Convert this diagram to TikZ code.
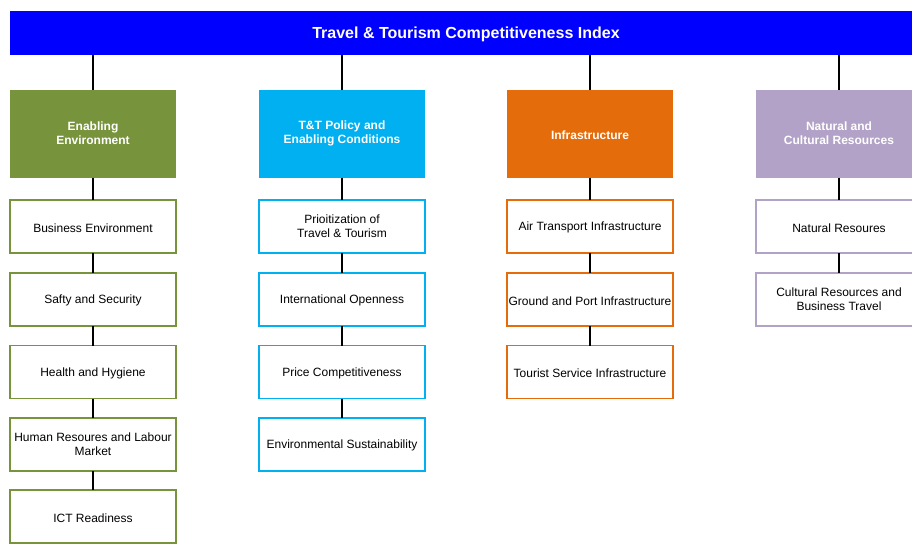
\documentclass[tikz,border=0pt]{standalone}
\usepackage{fontspec}
\setmainfont{Liberation Sans}
\definecolor{cgreen}{HTML}{77933C}
\definecolor{ccyan}{HTML}{00B0F0}
\definecolor{corange}{HTML}{E46C0A}
\definecolor{cpurple}{HTML}{B3A2C7}
\definecolor{cblue}{HTML}{0000FF}
\tikzset{
  lowertext/.style={execute at begin node={\rule{0pt}{#1}}},
  lowertext/.default=0.95em,
  titlebar/.style={fill=cblue, draw=none, text=white, font=\fontsize{12}{14}\selectfont\bfseries,
    minimum width=684pt, minimum height=33pt, inner sep=0pt, outer sep=0pt, lowertext},
  header/.style={fill=#1, draw=none, text=white, font=\fontsize{9}{10.5}\selectfont\bfseries,
    minimum width=124.5pt, minimum height=66pt, inner sep=0pt, outer sep=0pt, align=center, lowertext},
  item/.style={fill=white, draw=#1, line width=0.9pt, text=black, font=\fontsize{9}{10.5}\selectfont,
    minimum width=124.5pt, minimum height=39.75pt, inner sep=0pt, outer sep=0pt, align=center, lowertext},
  link/.style={draw=black, line width=1.5pt},
}
\begin{document}
\begin{tikzpicture}[x=0.75pt,y=-0.75pt]
\clip (0,0) rectangle (912,543);
\fill[white] (0,0) rectangle (912,543);
% title
\node[titlebar] (top) at (466,33) {Travel \& Tourism Competitiveness Index};
% headers
\node[header=cgreen] (h1) at (93,133.5) {Enabling\\Environment};
\node[header=ccyan] (h2) at (342,133.5) {T\&T Policy and\\Enabling Conditions};
\node[header=corange] (h3) at (590,133.5) {Infrastructure};
\node[header=cpurple] (h4) at (839,133.5) {Natural and\\Cultural Resources};
% column 1
\node[item=cgreen] (a1) at (93,226.5) {Business Environment};
\node[item=cgreen] (a2) at (93,299.5) {Safty and Security};
\node[item=cgreen] (a3) at (93,372) {Health and Hygiene};
\node[item=cgreen] (a4) at (93,444.5) {Human Resoures and Labour\\Market};
\node[item=cgreen] (a5) at (93,516.5) {ICT Readiness};
% column 2
\node[item=ccyan] (b1) at (342,226.5) {Prioitization of\\Travel \& Tourism};
\node[item=ccyan] (b2) at (342,299.5) {International Openness};
\node[item=ccyan] (b3) at (342,372) {Price Competitiveness};
\node[item=ccyan] (b4) at (342,444.5) {Environmental Sustainability};
% column 3
\node[item=corange] (c1) at (590,226.5) {Air Transport Infrastructure};
\node[item=corange] (c2) at (590,299.5) {Ground and Port Infrastructure};
\node[item=corange] (c3) at (590,372) {Tourist Service Infrastructure};
% column 4
\node[item=cpurple] (d1) at (839,226.5) {Natural Resoures};
\node[item=cpurple] (d2) at (839,299.5) {Cultural Resources and\\Business Travel};
% connectors
\foreach \h in {h1,h2,h3,h4}{
  \draw[link] (top.south -| \h.north) -- (\h.north);
}
\draw[link] (h1.south) -- (a1.north);
\draw[link] (a1.south) -- (a2.north);
\draw[link] (a2.south) -- (a3.north);
\draw[link] (a3.south) -- (a4.north);
\draw[link] (a4.south) -- (a5.north);
\draw[link] (h2.south) -- (b1.north);
\draw[link] (b1.south) -- (b2.north);
\draw[link] (b2.south) -- (b3.north);
\draw[link] (b3.south) -- (b4.north);
\draw[link] (h3.south) -- (c1.north);
\draw[link] (c1.south) -- (c2.north);
\draw[link] (c2.south) -- (c3.north);
\draw[link] (h4.south) -- (d1.north);
\draw[link] (d1.south) -- (d2.north);
\end{tikzpicture}
\end{document}
